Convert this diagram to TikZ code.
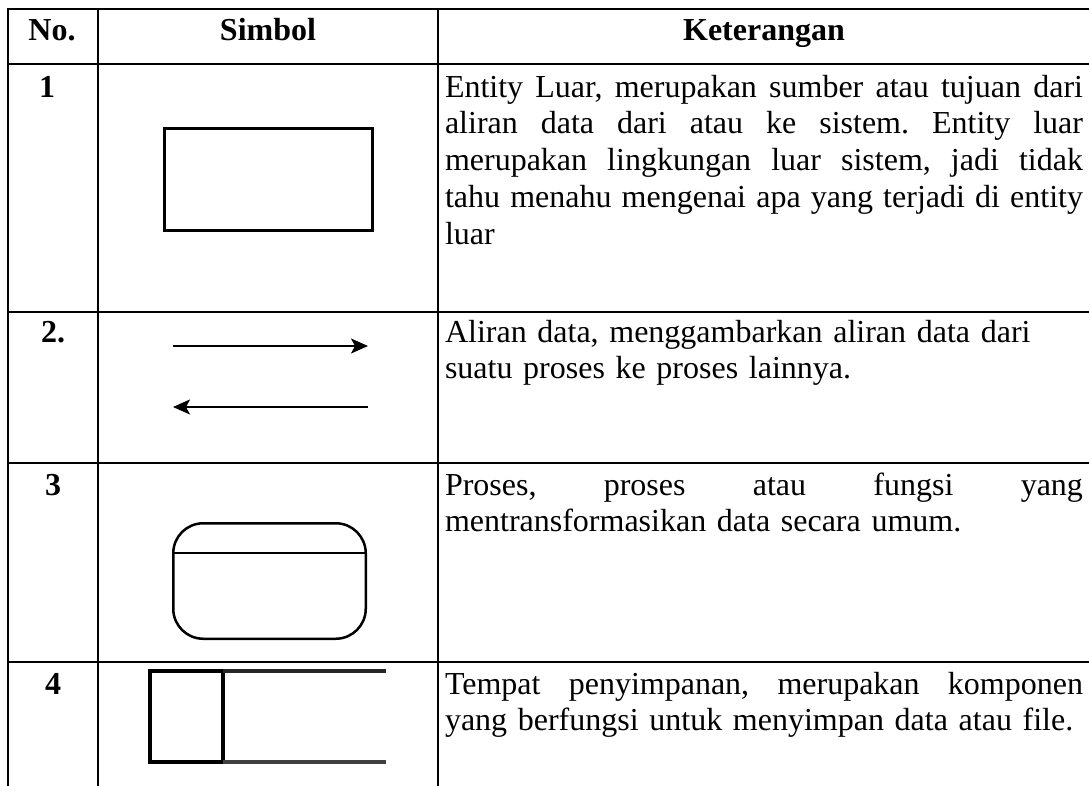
\documentclass[tikz,border=0pt]{standalone}
\usepackage{fontspec}
\setmainfont{Liberation Serif}
\usetikzlibrary{arrows.meta}

\frenchspacing
\newcommand{\jline}[1]{\leavevmode\hbox to 638pt{\spaceskip=0.25em plus 1fil\xspaceskip=\spaceskip\relax #1}}

\begin{document}
\begin{tikzpicture}[x=1pt,y=-1pt,line join=miter,
every node/.style={inner sep=0pt,outer sep=0pt,font=\fontsize{32}{36.8}\selectfont},
head/.style={anchor=base,font=\fontsize{32}{36.8}\selectfont\bfseries},
desc/.style={anchor=base west,text width=638pt,align=left}]
\tikzstyle{grid}=[line width=2pt]
\tikzstyle{symbox}=[draw,line width=3pt]
\tikzstyle{flow}=[line width=1.6pt,-{Stealth[length=17pt,width=15pt,inset=4pt]}]

\useasboundingbox (0,0) rectangle (1089,785);

\draw[grid] (1095,9) -- (8,9) -- (8,790);
\draw[grid] (98,9) -- (98,790);
\draw[grid] (438,9) -- (438,790);
\foreach \yy in {64,312,463,662}
  \draw[grid] (8,\yy) -- (1095,\yy);

\node[head] (hNo)  at (52,40)  {No.};
\node[head] (hSym) at (268,40) {Simbol};
\node[head] (hKet) at (764,40) {Keterangan};

\node[head] (numA) at (47,97)  {1};
\node[head] (numB) at (53,342) {2.};
\node[head] (numC) at (53,495) {3};
\node[head] (numD) at (53,694) {4};

\node[symbox,minimum width=208pt,minimum height=102pt] (entity) at (268.5,179.5) {};

\coordinate (flowAs) at (173,346);
\coordinate (flowAe) at (368,346);
\coordinate (flowBs) at (368,407);
\coordinate (flowBe) at (173,407);
\draw[flow] (flowAs) -- (flowAe);
\draw[flow] (flowBs) -- (flowBe);

\node[draw,line width=2.5pt,rounded corners=30pt,minimum width=192.5pt,
  minimum height=115.5pt] (proc) at (269.5,581) {};
\draw[line width=2.2pt] ([yshift=-30pt]proc.north west) -- ([yshift=-30pt]proc.north east);

\node[draw,line width=3.5pt,minimum width=73pt,minimum height=91pt] (store) at (186.5,716.5) {};
\coordinate (storeTop) at (386,671);
\coordinate (storeBot) at (386,762);
\draw[line width=3.5pt,black!85] (store.north east) -- (storeTop);
\draw[line width=3.5pt,black!75] (store.south east) -- (storeBot);

\node[desc] (ketA) at (445,97) {\jline{Entity Luar, merupakan sumber atau tujuan dari}\\
\jline{aliran data dari atau ke sistem. Entity luar}\\
\jline{merupakan lingkungan luar sistem, jadi tidak}\\
\jline{tahu menahu mengenai apa yang terjadi di entity}\\
luar};
\node[desc] (ketB) at (445,342) {Aliran data, menggambarkan aliran data dari\\
suatu proses ke proses lainnya.};
\node[desc] (ketC) at (445,495) {\jline{Proses, proses atau fungsi yang}\\
mentransformasikan data secara umum.};
\node[desc] (ketD) at (445,694) {\jline{Tempat penyimpanan, merupakan komponen}\\
yang berfungsi untuk menyimpan data atau file.};
\end{tikzpicture}
\end{document}
